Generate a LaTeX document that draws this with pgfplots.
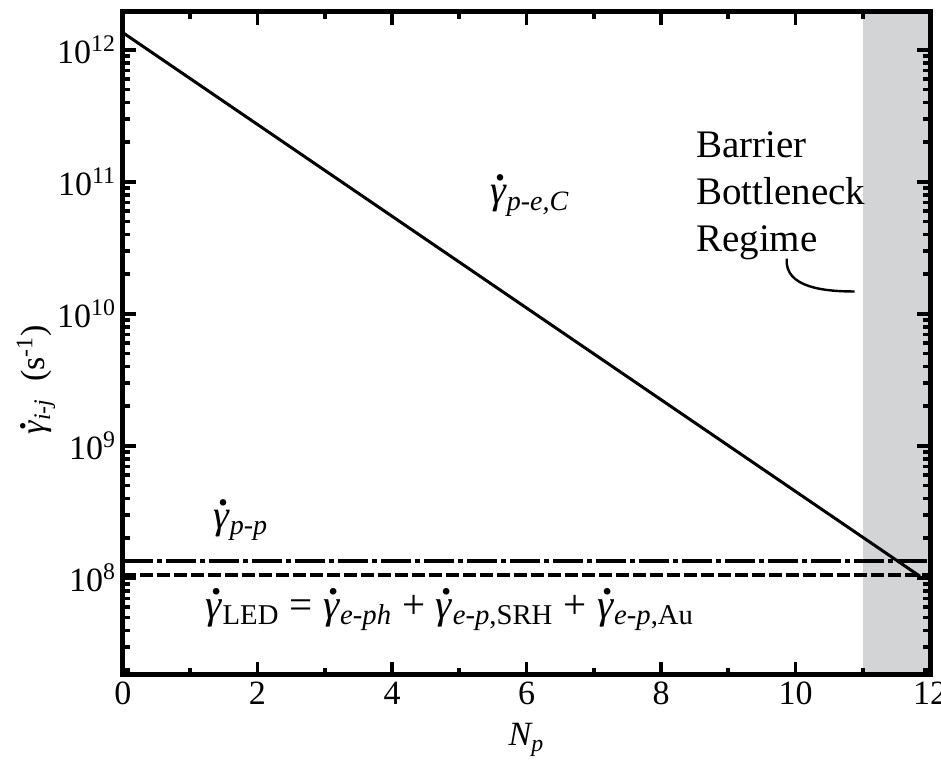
\documentclass[border=0pt]{standalone}
\usepackage{fontspec}
\setmainfont{Liberation Serif}
\usepackage{amsmath}
\usepackage{pgfplots}
\pgfplotsset{compat=1.18}
\definecolor{bandgray}{HTML}{D3D4D6}
\newcommand{\gd}{\leavevmode\hbox{\ooalign{\textit{γ}\cr\hidewidth\kern0.12em\raisebox{0.58em}{\textbf{.}}\hidewidth\cr}}}
\begin{document}
\begin{tikzpicture}
\useasboundingbox (-61.5pt,-44.5pt) rectangle (409pt,337.5pt);
\begin{axis}[
  at={(0,0)}, anchor=south west,
  scale only axis, width=403.5pt, height=331.5pt,
  xmin=0, xmax=12, ymode=log, ymin=1.84e7, ymax=1.94e12,
  xtick={0,2,4,6,8,10,12}, xticklabels={0,2,4,6,8,10,12},
  minor xtick={1,3,5,7,9,11},
  ytick={1e8,1e9,1e10,1e11,1e12},
  yticklabels={10\textsuperscript{8},10\textsuperscript{9},10\textsuperscript{10},10\textsuperscript{11},10\textsuperscript{12}},
  minor ytick={2e7,3e7,4e7,5e7,6e7,7e7,8e7,9e7,2e8,3e8,4e8,5e8,6e8,7e8,8e8,9e8,2e9,3e9,4e9,5e9,6e9,7e9,8e9,9e9,2e10,3e10,4e10,5e10,6e10,7e10,8e10,9e10,2e11,3e11,4e11,5e11,6e11,7e11,8e11,9e11},
  axis line style={line width=2.5pt},
  every tick/.style={line width=1.8pt, black},
  major tick length=6.5pt, minor tick length=3.5pt,
  tick align=inside,
  tick label style={font=\fontsize{17}{20}\selectfont},
  axis on top,
  xlabel={\textit{N\textsubscript{p}}},
  xlabel style={font=\fontsize{17}{20}\selectfont, at={(axis description cs:0.5,-0.098)}, anchor=center},
  ylabel={\gd\textsubscript{\textit{i-j}}\ \ (s\textsuperscript{-1})},
  ylabel style={font=\fontsize{17}{20}\selectfont, at={(axis description cs:-0.108,0.445)}, anchor=center, rotate=0},
]
\addplot[fill=bandgray, draw=none] coordinates {(11,1e7) (12,1e7) (12,1e13) (11,1e13)} -- cycle;
\addplot[line width=1.5pt, black] coordinates {(0,1.35e12) (11.85,1.03e8)};
\addplot[line width=2pt, black, dash pattern=on 15pt off 2pt on 2.5pt off 2pt] coordinates {(0,1.35e8) (12,1.35e8)};
\addplot[line width=2pt, black, dash pattern=on 6.5pt off 2pt] coordinates {(0,1.05e8) (12,1.05e8)};
\node[font=\fontsize{20}{23}\selectfont] at (axis cs:6.05,7.2e10) {\gd\textsubscript{\textit{p-e,C}}};
\node[font=\fontsize{20}{23}\selectfont] at (axis cs:1.75,2.5e8) {\gd\textsubscript{\textit{p-p}}};
\node[font=\fontsize{20.5}{23}\selectfont] at (axis cs:4.86,5.4e7) {\gd\textsubscript{LED} = \gd\textsubscript{\textit{e-ph}} + \gd\textsubscript{\textit{e-p},SRH} + \gd\textsubscript{\textit{e-p},Au}};
\node[font=\fontsize{19.5}{23.5}\selectfont, anchor=west, align=left] at (axis cs:8.42,7.9e10) {Barrier\\Bottleneck\\Regime};
\draw[line width=1.2pt] (axis cs:9.87,2.63e10) to[out=-95,in=180] (axis cs:10.88,1.48e10);
\end{axis}
\end{tikzpicture}
\end{document}
